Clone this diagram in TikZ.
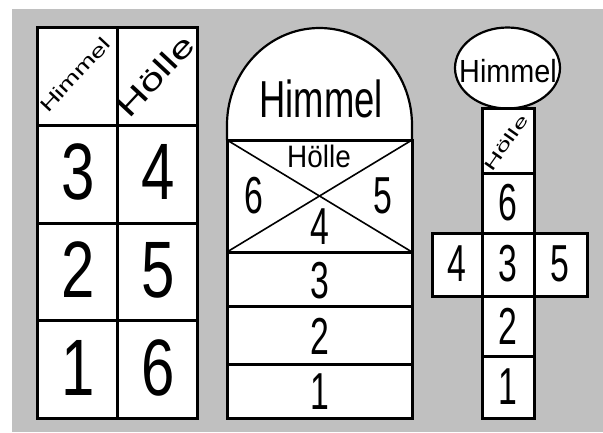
\documentclass[tikz,border=0pt]{standalone}
\usepackage{fontspec}
\usepackage{graphicx}
\setmainfont{Liberation Sans}
\definecolor{bggray}{HTML}{C0C0C0}
\newcommand\nrw[2]{\scalebox{#1}[1]{#2}}
\begin{document}
\begin{tikzpicture}[x=1pt,y=-1pt,
  frame/.style={line width=3pt, line join=miter},
  thin/.style={line width=1.6pt},
  bigdig/.style={font=\fontsize{80}{80}\selectfont, inner sep=0pt},
  dig/.style={font=\fontsize{52}{52}\selectfont, inner sep=0pt},
  lbl/.style={inner sep=0pt}]
\useasboundingbox (0,0) rectangle (603,432);
\fill[white] (0,0) rectangle (603,432);
\fill[bggray] (12,9) rectangle (603,432);

% ---------- left grid ----------
\draw[frame, fill=white] (37,27) rectangle (197,418);
\draw[frame] (117,27) -- (117,418);
\foreach \yy in {125,223,320} \draw[frame] (37,\yy) -- (197,\yy);
\node[lbl, rotate=47, font=\fontsize{19}{19}\selectfont] (lhim) at (75,75) {\nrw{1.45}{Himmel}};
\node[lbl, rotate=47, font=\fontsize{30}{30}\selectfont] (lhoe) at (155,76) {\nrw{1.45}{Hölle}};
\node[bigdig] (l3) at (78,172) {\nrw{0.75}{3}};
\node[bigdig] (l4) at (158,172) {\nrw{0.75}{4}};
\node[bigdig] (l2) at (78,270) {\nrw{0.75}{2}};
\node[bigdig] (l5) at (158,270) {\nrw{0.75}{5}};
\node[bigdig] (l1) at (78,368) {\nrw{0.75}{1}};
\node[bigdig] (l6) at (158,368) {\nrw{0.75}{6}};

% ---------- middle figure ----------
\draw[line width=2.2pt, fill=white] (227,140) -- (227,125)
  arc[start angle=180, end angle=360, x radius=92.5, y radius=97] -- (412,140);
\draw[frame, fill=white] (227,140) rectangle (412,418);
\foreach \yy in {252,306,364} \draw[frame] (227,\yy) -- (412,\yy);
\coordinate (hTL) at (227,140);
\coordinate (hTR) at (412,140);
\coordinate (hBL) at (227,252);
\coordinate (hBR) at (412,252);
\draw[thin] (hTL) -- (hBR);
\draw[thin] (hBL) -- (hTR);
\node[lbl, font=\fontsize{52}{52}\selectfont] (mhim) at (321,99) {\nrw{0.7}{Himmel}};
\node[lbl, font=\fontsize{31}{31}\selectfont] (mhoe) at (319,156) {\nrw{0.9}{Hölle}};
\node[dig] (m6) at (254,196) {\nrw{0.65}{6}};
\node[dig] (m5) at (383,196) {\nrw{0.65}{5}};
\node[dig] (m4) at (320,227) {\nrw{0.65}{4}};
\node[dig] (m3) at (320,281) {\nrw{0.65}{3}};
\node[dig] (m2) at (320,336) {\nrw{0.65}{2}};
\node[dig] (m1) at (320,392) {\nrw{0.65}{1}};

% ---------- right figure ----------
\draw[line width=2.2pt, fill=white] (507.5,68) ellipse[x radius=52.5, y radius=40.5];
\draw[frame, fill=white] (482,108) rectangle (534,418);
\draw[frame, fill=white] (432,233) rectangle (587,296);
\draw[frame] (482,233) -- (482,296);
\draw[frame] (534,233) -- (534,296);
\draw[frame] (482,173) -- (534,173);
\draw[frame] (482,356) -- (534,356);
\node[lbl, font=\fontsize{32}{32}\selectfont] (rhim) at (508,71) {\nrw{0.9}{Himmel}};
\node[lbl, rotate=55, font=\fontsize{16}{16}\selectfont] (rhoe) at (506,143) {\nrw{1.75}{Hölle}};
\node[dig] (r6) at (508,203) {\nrw{0.65}{6}};
\node[dig] (r4) at (457,264) {\nrw{0.65}{4}};
\node[dig] (r3) at (508,264) {\nrw{0.65}{3}};
\node[dig] (r5) at (560,264) {\nrw{0.65}{5}};
\node[dig] (r2) at (508,326) {\nrw{0.65}{2}};
\node[dig] (r1) at (508,387) {\nrw{0.65}{1}};
\end{tikzpicture}
\end{document}
